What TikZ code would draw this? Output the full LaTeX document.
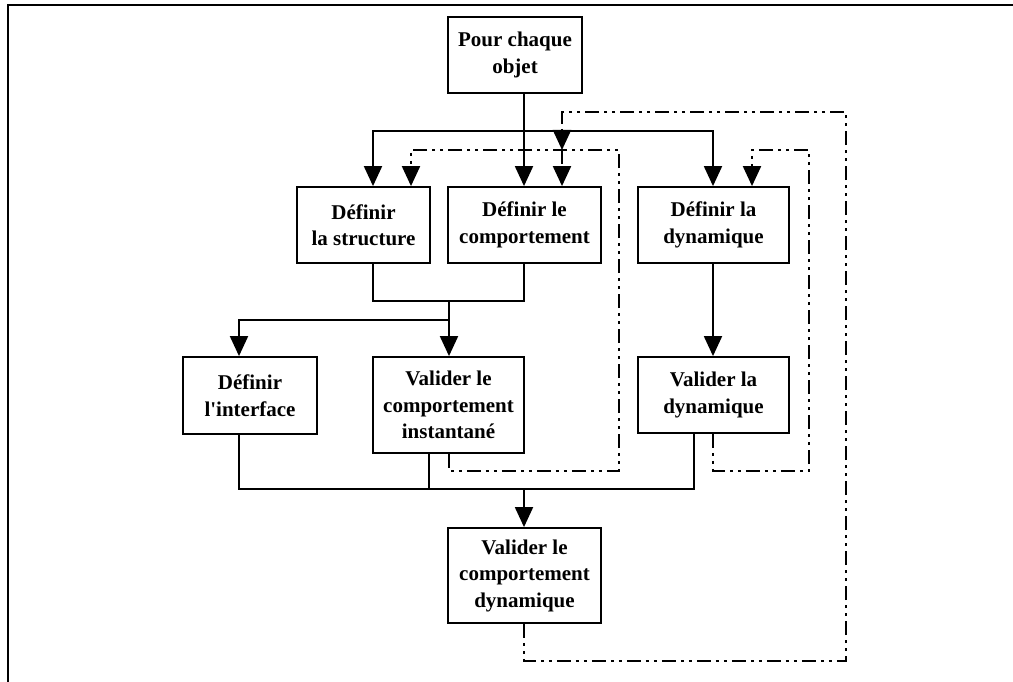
\documentclass[tikz,border=0pt]{standalone}
\usepackage{fontspec}
\setmainfont{Liberation Serif}
\usetikzlibrary{arrows.meta}
\begin{document}
\begin{tikzpicture}[x=1pt,y=-1pt,
  box/.style={draw,line width=1.8pt,align=center,inner sep=0pt,
    font=\fontsize{21}{26.5}\selectfont\bfseries},
  conn/.style={line width=1.9pt},
  arr/.style={-{Triangle[length=20pt,width=18pt]}},
  dd/.style={line width=2pt,dash pattern=on 14pt off 5pt on 3pt off 5pt on 3pt off 5pt}
]
\useasboundingbox (0,0) rectangle (1013,682);
% frame
\draw[line width=2.8pt] (8,682) -- (8,5) -- (1013,5);

% nodes
\node[box,minimum width=134pt,minimum height=76pt] (pour) at (515,55) {Pour chaque\\objet};
\node[box,minimum width=133pt,minimum height=76pt] (ds) at (363.5,225) {Définir\\la structure};
\node[box,minimum width=153pt,minimum height=76pt] (dc) at (524.5,225) {Définir le\\comportement};
\node[box,minimum width=151pt,minimum height=76pt] (dd) at (713.5,225) {Définir la\\dynamique};
\node[box,minimum width=134pt,minimum height=77pt] (di) at (250,395.5) {Définir\\l\textquotesingle interface};
\node[box,minimum width=151pt,minimum height=96pt] (vci) at (448.5,405) {Valider le\\comportement\\instantané};
\node[box,minimum width=151pt,minimum height=76pt] (vd) at (713.5,395) {Valider la\\dynamique};
\node[box,minimum width=153pt,minimum height=95pt] (vcd) at (524.5,575.5) {Valider le\\comportement\\dynamique};

% columns
\coordinate (xa) at (239,0);
\coordinate (xb) at (373,0);
\coordinate (xc) at (411,0);
\coordinate (xd) at (429,0);
\coordinate (xe) at (449,0);
\coordinate (xf) at (524,0);
\coordinate (xg) at (562,0);
\coordinate (xi) at (694,0);
\coordinate (xj) at (713,0);
\coordinate (xk) at (752,0);
% junctions
\coordinate (j131) at (524,131);
\coordinate (j301) at (449,301);
\coordinate (j320) at (449,320);
\coordinate (j489) at (524,489);
\coordinate (j150) at (562,150);

% solid connectors
\draw[conn,arr] (pour.south -| xf) -- (dc.north -| xf);
\draw[conn,arr] (j131) -| (ds.north -| xb);
\draw[conn,arr] (j131) -| (dd.north -| xj);
\draw[conn] (ds.south -| xb) -- (373,301) -- (524,301) -- (dc.south -| xf);
\draw[conn,arr] (j301) -- (vci.north -| xe);
\draw[conn,arr] (j320) -| (di.north -| xa);
\draw[conn,arr] (dd.south -| xj) -- (vd.north -| xj);
\draw[conn] (di.south -| xa) -- (239,489) -| (vd.south -| xi);
\draw[conn] (vci.south -| xd) -- (429,489);
\draw[conn,arr] (j489) -- (vcd.north -| xf);

% dash-dot feedback connectors
\draw[dd,arr] (vcd.south -| xf) -- (524,661) -- (846,661) -- (846,112) -- (562,112) -- (j150);
\draw[dd,arr] (vci.south -| xe) -- (449,471) -| (619,150) -| (ds.north -| xc);
\draw[dd,arr] (j150) -- (dc.north -| xg);
\draw[dd,arr] (vd.south -| xj) -- (713,471) -| (809,150) -| (dd.north -| xk);
\end{tikzpicture}
\end{document}
